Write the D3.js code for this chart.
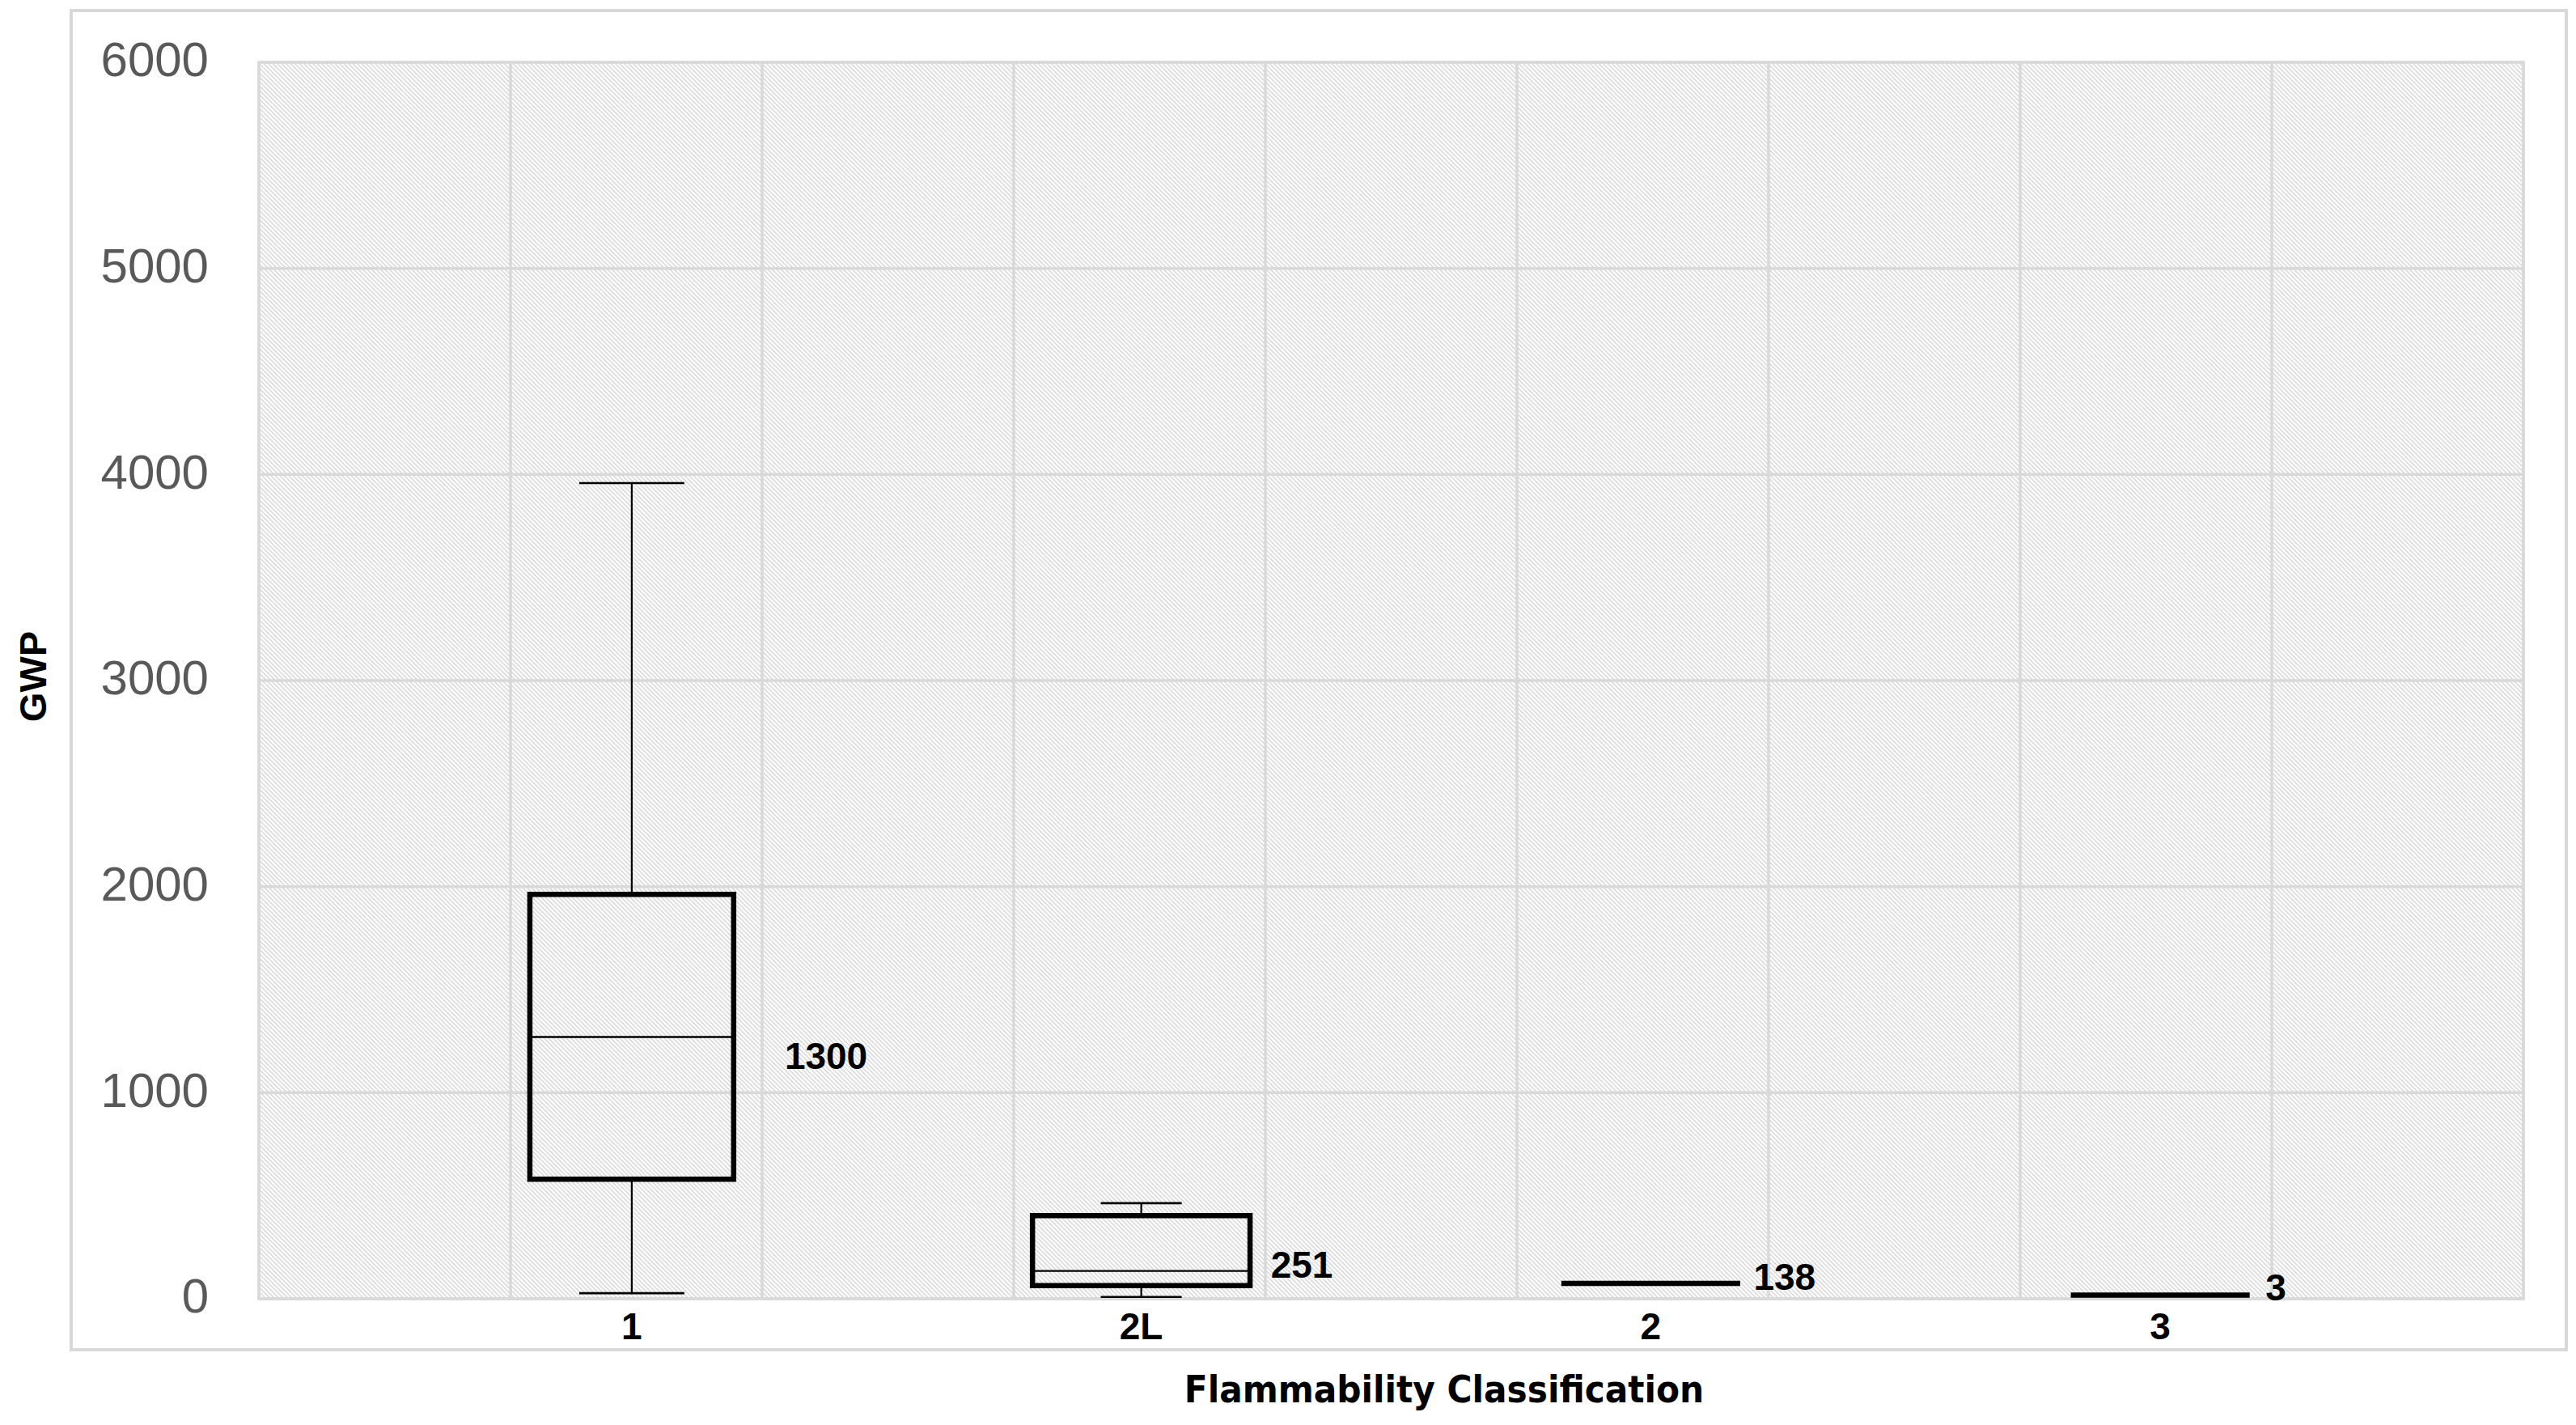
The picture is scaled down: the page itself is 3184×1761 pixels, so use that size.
<!DOCTYPE html>
<html>
<head>
<meta charset="utf-8">
<script src="https://cdn.jsdelivr.net/npm/d3@7"></script>
<style>
  html, body { margin: 0; padding: 0; background: #ffffff; }
  svg { display: block; }
</style>
</head>
<body>
<svg id="chart" width="3184" height="1761"></svg>
<script>
// ---------------- data ----------------
const categories   = ["1", "2L", "2", "3"];
const whiskerLow   = [27, 9, 75, 18];
const quartile1    = [580, 64, 75, 18];
const medians      = [1270, 135, 75, 18];
const quartile3    = [1962, 403, 75, 18];
const whiskerHigh  = [3958, 464, 75, 18];
const labelTexts   = ["1300", "251", "138", "3"];
const yTickValues  = [0, 1000, 2000, 3000, 4000, 5000, 6000];
const xTitle = "Flammability Classification";
const yTitle = "GWP";

// ---------------- style config ----------------
const boxWidthFrac = [0.40, 0.427, 0.351, 0.351];   // of band width
const capWidthFrac = [0.516, 0.372, 0, 0];          // of box width
const labelDx = [189, 160, 127, 130];
const labelDy = [23, -8, -8, -10];

const W = 3184, H = 1761;
const plot = { left: 320, right: 3119, top: 77, bottom: 1605 };
const gridColor = "#d9d9d9";

const svg = d3.select("#chart");

// hatch pattern (light downward diagonal)
const defs = svg.append("defs");
const P = 5.5;
const pat = defs.append("pattern")
  .attr("id", "hatch").attr("patternUnits", "userSpaceOnUse")
  .attr("width", P).attr("height", P);
pat.append("rect").attr("width", P).attr("height", P).attr("fill", "#ffffff");
pat.append("path")
  .attr("d", `M0,0 L${P},${P} M-1,${P - 1} L1,${P + 1} M${P - 1},-1 L${P + 1},1`)
  .attr("stroke", "#cdcdcd").attr("stroke-width", 1.2).attr("fill", "none");

// outer chart border
svg.append("rect")
  .attr("x", 88).attr("y", 13).attr("width", 3084).attr("height", 1655)
  .attr("fill", "#ffffff").attr("stroke", gridColor).attr("stroke-width", 4);

// scales
const y = d3.scaleLinear().domain([0, 6000]).range([plot.bottom, plot.top]);
const x = d3.scaleBand().domain(categories).range([466, 2985]).padding(0);
const xGrid = d3.scaleLinear().domain([0, 9]).range([plot.left, plot.right]);

// plot background
svg.append("rect")
  .attr("x", plot.left).attr("y", plot.top)
  .attr("width", plot.right - plot.left).attr("height", plot.bottom - plot.top)
  .attr("fill", "url(#hatch)");

// gridlines
const grid = svg.append("g");
grid.selectAll("line.h").data(yTickValues).join("line")
  .attr("x1", plot.left).attr("x2", plot.right)
  .attr("y1", d => y(d)).attr("y2", d => y(d))
  .attr("stroke", gridColor).attr("stroke-width", 3.5);
grid.selectAll("line.v").data(xGrid.ticks(9)).join("line")
  .attr("y1", plot.top).attr("y2", plot.bottom)
  .attr("x1", d => xGrid(d)).attr("x2", d => xGrid(d))
  .attr("stroke", gridColor).attr("stroke-width", 3.5);

// plot border
svg.append("rect")
  .attr("x", plot.left).attr("y", plot.top)
  .attr("width", plot.right - plot.left).attr("height", plot.bottom - plot.top)
  .attr("fill", "none").attr("stroke", gridColor).attr("stroke-width", 3.5);

// y axis
const yAxis = svg.append("g")
  .attr("transform", `translate(${plot.left},0)`)
  .call(d3.axisLeft(y).tickValues(yTickValues).tickSize(0).tickPadding(62).tickFormat(d3.format("d")));
yAxis.select(".domain").remove();
yAxis.selectAll("text")
  .attr("dy", "0.28em")
  .style("font-family", "'Liberation Sans', Arial, sans-serif")
  .style("font-size", "60px")
  .attr("fill", "#595959");

// x axis
const xAxis = svg.append("g")
  .attr("transform", `translate(0,${plot.bottom})`)
  .call(d3.axisBottom(x).tickSize(0).tickPadding(17));
xAxis.select(".domain").remove();
xAxis.selectAll("text")
  .style("font-family", "'Liberation Sans', Arial, sans-serif")
  .style("font-size", "46px")
  .style("font-weight", "bold")
  .attr("fill", "#000000");

// boxes
const rows = categories.map((c, i) => ({
  c, i,
  lo: whiskerLow[i], q1: quartile1[i], med: medians[i], q3: quartile3[i], hi: whiskerHigh[i],
  label: labelTexts[i]
}));
const cx = d => x(d.c) + x.bandwidth() / 2;
const bw = d => x.bandwidth() * boxWidthFrac[d.i];
const cw = d => bw(d) * capWidthFrac[d.i];

const g = svg.append("g");
const withWhiskers = rows.filter(d => d.hi > d.q3 || d.lo < d.q1);

// whisker stems
g.selectAll("line.wh").data(withWhiskers).join("line")
  .attr("x1", cx).attr("x2", cx)
  .attr("y1", d => y(d.q3)).attr("y2", d => y(d.hi))
  .attr("stroke", "#000").attr("stroke-width", 2.2);
g.selectAll("line.wl").data(withWhiskers).join("line")
  .attr("x1", cx).attr("x2", cx)
  .attr("y1", d => y(d.q1)).attr("y2", d => y(d.lo))
  .attr("stroke", "#000").attr("stroke-width", 2.2);
// caps
g.selectAll("line.ch").data(withWhiskers).join("line")
  .attr("x1", d => cx(d) - cw(d) / 2).attr("x2", d => cx(d) + cw(d) / 2)
  .attr("y1", d => y(d.hi)).attr("y2", d => y(d.hi))
  .attr("stroke", "#000").attr("stroke-width", 2.6);
g.selectAll("line.cl").data(withWhiskers).join("line")
  .attr("x1", d => cx(d) - cw(d) / 2).attr("x2", d => cx(d) + cw(d) / 2)
  .attr("y1", d => y(d.lo)).attr("y2", d => y(d.lo))
  .attr("stroke", "#000").attr("stroke-width", 2.6);

// box bodies (path so that zero-height boxes still draw as a line)
g.selectAll("path.box").data(rows).join("path")
  .attr("d", d => {
    const x0 = cx(d) - bw(d) / 2, x1 = cx(d) + bw(d) / 2;
    return `M${x0},${y(d.q3)}H${x1}V${y(d.q1)}H${x0}Z`;
  })
  .attr("fill", "none").attr("stroke", "#000").attr("stroke-width", 6.5)
  .attr("stroke-linejoin", "miter");

// medians
g.selectAll("line.med").data(rows.filter(d => d.q3 > d.q1)).join("line")
  .attr("x1", d => cx(d) - bw(d) / 2).attr("x2", d => cx(d) + bw(d) / 2)
  .attr("y1", d => y(d.med)).attr("y2", d => y(d.med))
  .attr("stroke", "#000").attr("stroke-width", 2.4);

// value labels
g.selectAll("text.lbl").data(rows).join("text")
  .attr("x", d => cx(d) + labelDx[d.i])
  .attr("y", d => y(d.med) + labelDy[d.i])
  .attr("dy", "0.36em")
  .style("font-family", "'Liberation Sans', Arial, sans-serif")
  .style("font-size", "46px")
  .style("font-weight", "bold")
  .attr("fill", "#000")
  .text(d => d.label);

// axis titles
svg.append("text")
  .attr("x", 1785).attr("y", 1733)
  .attr("text-anchor", "middle")
  .style("font-family", "'DejaVu Sans Condensed', 'Liberation Sans', sans-serif")
  .style("font-size", "47px")
  .style("font-weight", "bold")
  .attr("fill", "#000")
  .text(xTitle);

svg.append("text")
  .attr("transform", "translate(57,836) rotate(-90)")
  .attr("text-anchor", "middle")
  .style("font-family", "'Liberation Sans', Arial, sans-serif")
  .style("font-size", "47px")
  .style("font-weight", "bold")
  .attr("fill", "#000")
  .text(yTitle);
</script>
</body>
</html>
